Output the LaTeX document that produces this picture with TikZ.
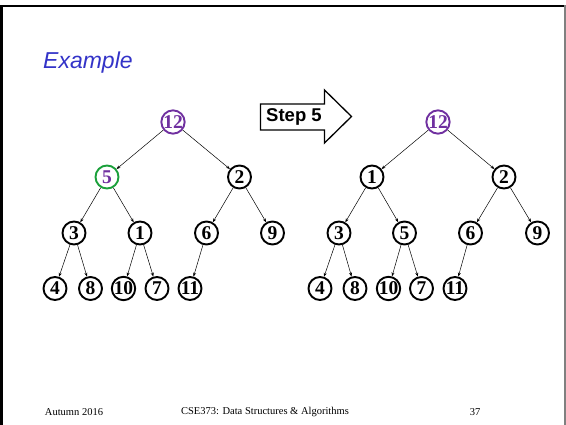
\documentclass[tikz,border=0pt]{standalone}
\usepackage{fontspec}
\setmainfont{Liberation Serif}
\newfontfamily\arialfont{Liberation Sans}
\usetikzlibrary{arrows.meta}
\definecolor{titleblue}{RGB}{51,51,200}
\definecolor{hpurple}{RGB}{112,48,160}
\definecolor{hgreen}{RGB}{26,160,58}
\begin{document}
\begin{tikzpicture}[x=1pt,y=-1pt,
  hnode/.style={circle,draw=black,line width=1.9pt,minimum size=23pt,inner sep=0pt,
    font=\fontsize{19.5}{19.5}\selectfont\bfseries},
  rootnode/.style={hnode,draw=hpurple,text=hpurple},
  movednode/.style={hnode,draw=hgreen,text=hpurple},
  edge/.style={line width=0.5pt,-{Stealth[length=4pt,width=3pt]}},
  foot/.style={font=\fontsize{10.5}{12}\selectfont}]
\useasboundingbox (0,0) rectangle (566,425);
\fill[white] (0,0) rectangle (566,425);
% title
\node[anchor=base west,font=\arialfont\itshape\fontsize{23}{24}\selectfont,text=titleblue,inner sep=0pt] (title) at (43,68.5) {Example};
% left tree
\node[rootnode] (a12) at (173,122) {12};
\node[movednode] (a5) at (107,177) {5};
\node[hnode] (a2) at (239.5,177) {2};
\node[hnode] (a3) at (74,233) {3};
\node[hnode] (a1) at (140,233) {1};
\node[hnode] (a6) at (206.5,233) {6};
\node[hnode] (a9) at (272.5,233) {9};
\node[hnode] (a4) at (55,288.5) {4};
\node[hnode] (a8) at (90.5,288.5) {8};
\node[hnode] (a10) at (123.5,288.5) {10};
\node[hnode] (a7) at (157,288.5) {7};
\node[hnode] (a11) at (190,288.5) {11};
\foreach \p/\c in {a12/a5,a12/a2,a5/a3,a5/a1,a2/a6,a2/a9,a3/a4,a3/a8,a1/a10,a1/a7,a6/a11}
  \draw[edge] (\p) -- (\c);
% step arrow
\draw[line width=1.3pt,fill=white] (260.5,104) -- (324.5,104) -- (324.5,90) -- (351.5,116.5) -- (324.5,143) -- (324.5,130) -- (260.5,130) -- cycle;
\node[font=\arialfont\bfseries\fontsize{18.5}{18.5}\selectfont,inner sep=0pt] (step) at (294,117) {Step 5};
% right tree
\node[rootnode] (b12) at (438,122) {12};
\node[hnode] (b1) at (372,177) {1};
\node[hnode] (b2) at (504,177) {2};
\node[hnode] (b3) at (339,233) {3};
\node[hnode] (b5) at (404.5,233) {5};
\node[hnode] (b6) at (470.5,233) {6};
\node[hnode] (b9) at (537.5,233) {9};
\node[hnode] (b4) at (320,288.5) {4};
\node[hnode] (b8) at (355,288.5) {8};
\node[hnode] (b10) at (388.5,288.5) {10};
\node[hnode] (b7) at (421.5,288.5) {7};
\node[hnode] (b11) at (455,288.5) {11};
\foreach \p/\c in {b12/b1,b12/b2,b1/b3,b1/b5,b2/b6,b2/b9,b3/b4,b3/b8,b5/b10,b5/b7,b6/b11}
  \draw[edge] (\p) -- (\c);
% footer
\node[foot] (f1) at (74,412) {Autumn 2016};
\node[foot] (f2) at (265,412) {CSE373: Data Structures \& Algorithms};
\node[foot] (f3) at (475,412) {37};
% frame
\fill[black] (0,5) rectangle (566,7.5);
\fill[black] (0,5) rectangle (2.5,425);
\fill[gray] (564,5) rectangle (565.5,425);
\end{tikzpicture}
\end{document}
